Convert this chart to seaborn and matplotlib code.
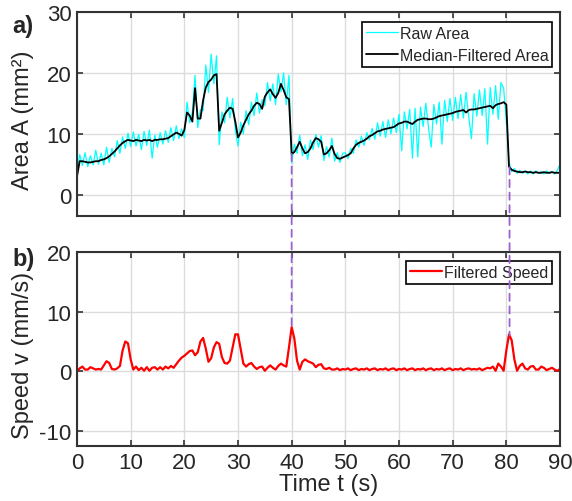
import numpy as np
import pandas as pd
import seaborn as sns
import matplotlib
matplotlib.use("Agg")
import matplotlib.pyplot as plt
from matplotlib.patches import ConnectionPatch

# samples every 0.5 s, t = 0 ... 90 s
step = 0.5

raw_area = [
    3.5, 6.6, 4.8, 6.9, 4.6, 6.4, 4.9, 7.3, 5.0, 6.8,
    4.9, 7.8, 5.3, 7.6, 6.2, 8.9, 6.8, 9.5, 7.6, 10.1,
    7.9, 10.3, 8.0, 9.9, 7.4, 10.4, 8.1, 10.6, 6.0, 9.8,
    7.8, 10.2, 8.3, 10.5, 8.6, 11.0, 8.9, 11.3, 9.2, 10.8,
    9.4, 15.2, 11.8, 13.6, 19.6, 11.0, 14.0, 13.8, 21.3, 16.8,
    23.1, 18.2, 22.8, 8.2, 13.6, 11.8, 16.0, 12.6, 15.8, 10.6,
    8.0, 11.9, 10.0, 13.8, 11.5, 15.2, 13.0, 16.7, 13.4, 15.6,
    14.6, 18.4, 15.4, 18.2, 14.8, 19.8, 16.9, 20.0, 14.8, 19.6,
    5.2, 8.3, 6.8, 9.8, 6.4, 8.2, 5.8, 9.0, 7.4, 9.9,
    7.8, 9.7, 5.6, 7.9, 6.2, 9.3, 5.5, 6.9, 5.3, 6.8,
    6.9, 5.9, 7.6, 6.8, 9.0, 7.8, 9.6, 8.1, 10.2, 9.0,
    10.9, 9.1, 11.8, 9.6, 12.0, 9.4, 12.3, 10.0, 12.6, 10.2,
    13.2, 7.2, 13.6, 10.8, 14.0, 6.0, 14.2, 6.2, 14.4, 11.2,
    15.0, 11.0, 7.8, 14.8, 11.6, 15.2, 8.3, 15.5, 12.0, 15.8,
    12.2, 16.0, 12.5, 16.4, 12.6, 16.8, 12.8, 9.2, 16.6, 12.9,
    17.2, 13.0, 17.4, 8.3, 17.6, 13.2, 17.9, 12.4, 18.4, 17.5,
    12.0, 5.4, 3.8, 4.3, 3.5, 4.0, 3.5, 3.9, 3.4, 3.9,
    3.4, 3.9, 3.5, 3.8, 3.4, 3.9, 3.5, 3.8, 3.4, 4.0,
    5.0,
]

median_area = [
    3.0, 5.5, 5.5, 5.4, 5.3, 5.3, 5.4, 5.5, 5.5, 5.7,
    5.8, 6.0, 6.3, 6.7, 7.1, 7.6, 8.1, 8.5, 8.8, 9.0,
    8.9, 8.8, 9.0, 8.9, 8.8, 9.0, 8.9, 9.0, 8.8, 9.0,
    9.0, 9.1, 9.1, 9.2, 9.3, 9.6, 9.9, 10.2, 10.0, 9.7,
    10.6, 13.5, 13.0, 12.0, 17.5, 12.5, 12.5, 15.5, 17.6, 18.5,
    18.9, 19.6, 19.8, 10.5, 11.8, 13.2, 13.8, 14.3, 14.1, 12.0,
    9.4, 10.2, 11.4, 12.3, 13.2, 13.8, 14.6, 15.1, 14.9, 14.1,
    16.1, 16.8, 17.3, 16.5, 15.9, 16.7, 18.2, 17.2, 16.0, 15.7,
    6.7, 7.0, 7.8, 8.7, 7.6, 6.8, 7.0, 7.6, 8.6, 9.3,
    9.1, 8.7, 6.6, 6.8, 7.3, 8.0, 6.7, 6.0, 5.9, 6.1,
    6.3, 6.5, 6.8, 7.6, 8.2, 8.5, 8.7, 8.9, 9.2, 9.6,
    9.8, 10.1, 10.4, 10.5, 10.7, 10.8, 10.9, 11.0, 11.1, 11.4,
    11.7, 11.8, 12.0, 12.0, 11.8, 11.6, 12.0, 12.3, 12.4, 12.5,
    12.5, 12.4, 12.4, 12.5, 12.7, 12.9, 13.0, 13.1, 13.2, 13.3,
    13.4, 13.6, 13.7, 13.8, 13.9, 13.5, 13.9, 14.0, 14.0, 14.1,
    14.2, 14.3, 14.4, 14.5, 14.6, 14.2, 14.7, 14.9, 15.0, 15.2,
    14.8, 4.6, 4.1, 3.9, 3.8, 3.7, 3.7, 3.8, 3.7, 3.7,
    3.6, 3.7, 3.6, 3.6, 3.7, 3.6, 3.6, 3.7, 3.6, 3.6,
    3.6,
]

speed = [
    0.0, 0.5, 0.8, 0.3, 0.3, 0.7, 0.5, 0.3, 0.4, 0.3,
    1.0, 1.7, 1.4, 0.4, 0.3, 0.5, 0.9, 3.5, 5.0, 4.7,
    2.0, 0.3, 0.8, 0.2, 0.6, 0.1, 0.7, 0.1, 0.6, 0.7,
    0.3, 0.7, 0.3, 0.8, 0.5, 0.9, 0.6, 1.2, 1.8, 2.3,
    2.6, 3.0, 3.4, 3.5, 2.7, 3.2, 5.0, 5.6, 3.8, 1.6,
    2.2, 4.0, 4.9, 4.6, 2.4, 1.4, 1.3, 1.8, 4.0, 6.2,
    6.2, 3.8, 1.3, 0.8, 1.2, 1.4, 0.8, 0.4, 0.7, 0.8,
    0.1, 0.6, 1.0, 0.6, 0.3, 0.9, 1.3, 1.0, 0.8, 4.0,
    7.4, 5.5, 1.8, 0.3, 1.6, 2.0, 1.7, 1.5, 1.3, 0.7,
    1.1, 1.2, 0.5, 0.4, 0.6, 0.3, 0.3, 0.5, 0.2, 0.4,
    0.3, 0.5, 0.2, 0.4, 0.5, 0.2, 0.4, 0.3, 0.5, 0.2,
    0.4, 0.5, 0.2, 0.4, 0.3, 0.5, 0.2, 0.4, 0.5, 0.2,
    0.4, 0.3, 0.5, 0.2, 0.4, 0.5, 0.2, 0.4, 0.3, 0.5,
    0.2, 0.4, 0.5, 0.2, 0.4, 0.3, 0.5, 0.2, 0.4, 0.5,
    0.2, 0.4, 0.3, 0.5, 0.2, 0.4, 0.5, 0.3, 0.4, 0.3,
    0.5, 0.2, 0.4, 0.6, 0.5, 0.8, 0.1, 1.3, 0.8, 0.1,
    3.5, 6.2, 5.2, 2.0, 0.1, 0.9, 1.3, 0.5, 0.3, 0.8,
    0.9, 0.3, 0.3, 0.8, 0.6, 0.2, 0.4, 0.6, 0.3, 0.1,
    0.4,
]

# times of the two contraction events (dashed markers)
event_times = [40.0, 80.6]

time = np.arange(len(raw_area)) * step
df = pd.DataFrame({"t": time, "raw": raw_area, "median": median_area, "speed": speed})

sns.set_style("ticks")
plt.rcParams["font.family"] = ["Liberation Sans", "DejaVu Sans"]
plt.rcParams["axes.unicode_minus"] = False

fig = plt.figure(figsize=(5.72, 5.02), dpi=100)
ax1 = fig.add_axes([0.1346, 0.5677, 0.8444, 0.4064])
ax2 = fig.add_axes([0.1346, 0.1096, 0.8444, 0.3865])

sns.lineplot(data=df, x="t", y="raw", ax=ax1, color="#00ffff", lw=0.9,
             estimator=None, label="Raw Area")
sns.lineplot(data=df, x="t", y="median", ax=ax1, color="black", lw=1.3,
             estimator=None, label="Median-Filtered Area")
sns.lineplot(data=df, x="t", y="speed", ax=ax2, color="#ff0000", lw=1.6,
             estimator=None, label="Filtered Speed")

ax1.set_ylim(-3.5, 30)
ax1.set_yticks([0, 10, 20, 30])
ax2.set_ylim(-12.5, 20)
ax2.set_yticks([-10, 0, 10, 20])

for ax in (ax1, ax2):
    ax.set_xlim(0, 90)
    ax.set_xticks(np.arange(0, 91, 10))
    ax.grid(True, color="#dcdcdc", lw=1.0)
    ax.tick_params(direction="in", top=True, right=True, length=4, width=1.2,
                   labelsize=16, pad=4, color="#333333")
    for s in ax.spines.values():
        s.set_color("#333333")
        s.set_linewidth(1.5)
        s.set_visible(True)
    ax.set_xlabel("")

ax1.tick_params(labelbottom=False)
ax1.set_ylabel("Area A (mm²)", fontsize=17)
ax2.set_ylabel("Speed v (mm/s)", fontsize=17)
ax1.yaxis.set_label_coords(-0.09, 0.475)
ax2.yaxis.set_label_coords(-0.09, 0.47)
ax2.set_xlabel("Time t (s)", fontsize=17)
ax2.xaxis.set_label_coords(0.52, -0.14)

for ax, anchor in ((ax1, (0.984, 0.952)), (ax2, (0.984, 0.954))):
    leg = ax.legend(loc="upper right", bbox_to_anchor=anchor, borderaxespad=0,
                    fontsize=11.5, frameon=True, fancybox=False, framealpha=1,
                    edgecolor="black", handlelength=2.0, handletextpad=0.1,
                    borderpad=0.25, labelspacing=0.45)
    leg.get_frame().set_linewidth(1.2)

fig.text(12 / 572, 1 - 33 / 502, "a)", fontsize=17, fontweight="bold")
fig.text(12 / 572, 1 - 266 / 502, "b)", fontsize=17, fontweight="bold")

# dashed markers linking the area drop to the speed peak
for ev in event_times:
    ya = np.interp(ev, time, median_area)
    yb = np.interp(ev, time, speed)
    con = ConnectionPatch(xyA=(ev, ya), coordsA=ax1.transData,
                          xyB=(ev, yb), coordsB=ax2.transData,
                          color="#9b5fd0", lw=1.3, linestyle=(0, (4, 3)))
    fig.add_artist(con)

fig.savefig("out.png", dpi=100)
